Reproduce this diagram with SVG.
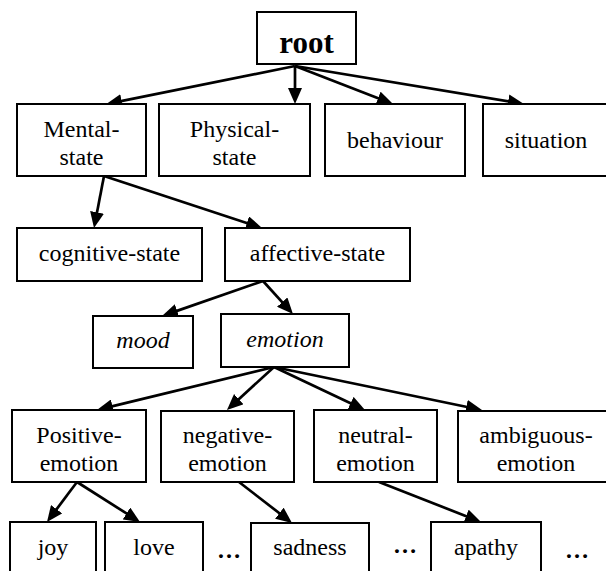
<svg xmlns="http://www.w3.org/2000/svg" width="606" height="571" viewBox="0 0 606 571">
<defs>
<style>
.box{fill:#fff;stroke:#000;stroke-width:2}
text{font-family:'Liberation Serif','Times New Roman',Tinos,'DejaVu Serif',serif;font-size:24px;fill:#000;text-anchor:middle}
.i{font-style:italic}
.b{font-weight:bold}
.e{stroke:#000;stroke-width:2.7;fill:none;marker-end:url(#ah)}
</style>
<marker id="ah" viewBox="0 0 16 14" refX="7" refY="7" markerWidth="16" markerHeight="14" markerUnits="userSpaceOnUse" orient="auto">
<path d="M0,0 L16,7 L0,14 z" fill="#000"/>
</marker>
</defs>
<rect width="606" height="571" fill="#fff"/>
<g id="connectors">
<line class="e" x1="295" y1="66" x2="114.8" y2="102.4"/>
<line class="e" x1="295" y1="66" x2="295" y2="95"/>
<line class="e" x1="295" y1="66" x2="384.6" y2="100.7"/>
<line class="e" x1="295" y1="66" x2="515.1" y2="102.5"/>
<line class="e" x1="104" y1="176" x2="95.7" y2="219.2"/>
<line class="e" x1="104" y1="176" x2="253.5" y2="225.2"/>
<line class="e" x1="263" y1="281" x2="170.5" y2="313.1"/>
<line class="e" x1="263" y1="281" x2="286.9" y2="307.3"/>
<line class="e" x1="274" y1="367" x2="105.7" y2="407.9"/>
<line class="e" x1="274" y1="367" x2="233.6" y2="403.9"/>
<line class="e" x1="274" y1="367" x2="356.9" y2="406.2"/>
<line class="e" x1="274" y1="367" x2="473.2" y2="408.2"/>
<line class="e" x1="77" y1="482" x2="52.4" y2="514.8"/>
<line class="e" x1="77" y1="482" x2="132.4" y2="517.2"/>
<line class="e" x1="239" y1="482" x2="284.9" y2="517.5"/>
<line class="e" x1="379" y1="482" x2="472.6" y2="518.7"/>
</g>
<g id="root"><rect class="box" x="257" y="12" width="99" height="52"/><text class="b" x="306.5" y="53" style="font-size:31px">root</text></g>
<g id="mental-state"><rect class="box" x="17" y="104" width="129" height="72"/><text x="81.5" y="137">Mental-</text><text x="81.5" y="165">state</text></g>
<g id="physical-state"><rect class="box" x="159" y="104" width="151" height="72"/><text x="234.5" y="137">Physical-</text><text x="234.5" y="165">state</text></g>
<g id="behaviour"><rect class="box" x="325" y="104" width="140" height="72"/><text x="395" y="148">behaviour</text></g>
<g id="situation"><rect class="box" x="483" y="104" width="126" height="72"/><text x="546" y="148">situation</text></g>
<g id="cognitive-state"><rect class="box" x="17" y="228" width="185" height="53"/><text x="109.5" y="261">cognitive-state</text></g>
<g id="affective-state"><rect class="box" x="225" y="228" width="185" height="53"/><text x="317.5" y="261">affective-state</text></g>
<g id="mood"><rect class="box" x="93" y="316" width="100" height="52"/><text class="i" x="143" y="348">mood</text></g>
<g id="emotion"><rect class="box" x="221" y="314" width="128" height="53"/><text class="i" x="285" y="347">emotion</text></g>
<g id="positive-emotion"><rect class="box" x="12" y="410" width="134" height="72"/><text x="79" y="443">Positive-</text><text x="79" y="471">emotion</text></g>
<g id="negative-emotion"><rect class="box" x="161" y="411" width="133" height="71"/><text x="227.5" y="443">negative-</text><text x="227.5" y="471">emotion</text></g>
<g id="neutral-emotion"><rect class="box" x="314" y="410" width="123" height="72"/><text x="375.5" y="443">neutral-</text><text x="375.5" y="471">emotion</text></g>
<g id="ambiguous-emotion"><rect class="box" x="458" y="411" width="156" height="71"/><text x="536" y="443">ambiguous-</text><text x="536" y="471">emotion</text></g>
<g id="joy"><rect class="box" x="10" y="522" width="86" height="58"/><text x="53" y="555">joy</text></g>
<g id="love"><rect class="box" x="105" y="522" width="98" height="58"/><text x="154" y="555">love</text></g>
<g id="sadness"><rect class="box" x="251" y="523" width="118" height="57"/><text x="310" y="555">sadness</text></g>
<g id="apathy"><rect class="box" x="431" y="522" width="110" height="58"/><text x="486" y="555">apathy</text></g>
<g id="ellipses">
<text class="b" x="229" y="558">…</text>
<text class="b" x="405" y="553">…</text>
<text class="b" x="577" y="558">…</text>
</g>
</svg>
